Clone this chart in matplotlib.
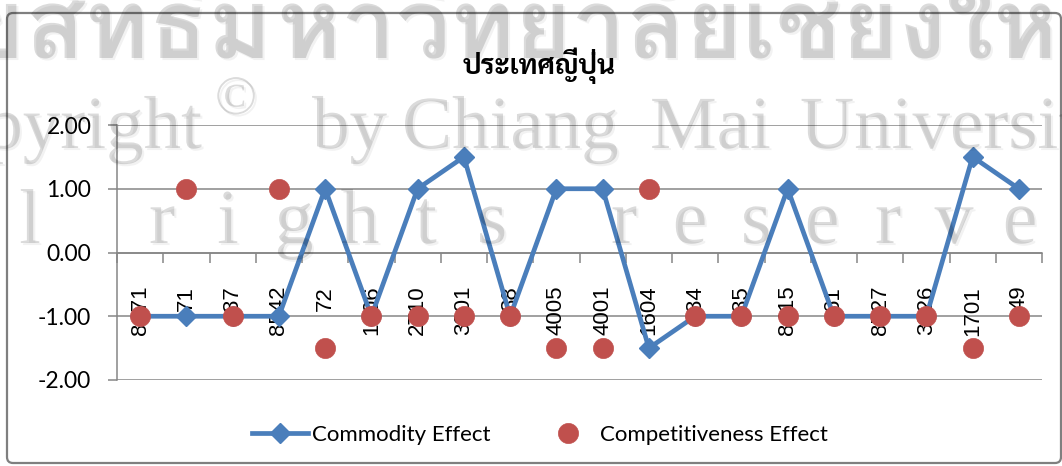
import matplotlib
matplotlib.use("Agg")
import matplotlib.pyplot as plt
import matplotlib.patches as mpatches
import matplotlib.patheffects as pe
from matplotlib.transforms import IdentityTransform
from matplotlib import font_manager as fm
from matplotlib.ft2font import FT2Font
from matplotlib.ticker import FixedLocator, NullFormatter

# ---------------- data ----------------
categories = ["8471", "71", "87", "8542", "72", "1006", "2710", "3901", "38", "4005",
              "4001", "1604", "84", "85", "8415", "61", "8527", "3926", "1701", "49"]
commodity_effect = [-1, -1, -1, -1, 1, -1, 1, 1.5, -1, 1,
                    1, -1.5, -1, -1, 1, -1, -1, -1, 1.5, 1]
competitiveness_effect = [-1, 1, -1, 1, -1.5, -1, -1, -1, -1, -1.5,
                          -1.5, 1, -1, -1, -1, -1, -1, -1, -1.5, -1]
y_ticks = [-2, -1, 0, 1, 2]
title = "ประเทศญี่ปุ่น"
series_names = ["Commodity Effect", "Competitiveness Effect"]

# ---------------- fonts ----------------
names = {f.name for f in fm.fontManager.ttflist}
thai_names = set()
for f in fm.fontManager.ttflist:
    try:
        if FT2Font(f.fname).get_char_index(ord("ป")):
            thai_names.add(f.name)
    except Exception:
        pass

def pick(prefs, fallback):
    for p in prefs:
        if p in thai_names:
            return p
    return fallback

any_thai = sorted(thai_names)[0] if thai_names else "DejaVu Sans"
title_font = pick(["Laksaman", "Norasi", "Kinnari", "Sarabun", "Loma"], any_thai)
wm_thai_font = pick(["Loma", "Sarabun", "IBM Plex Sans Thai Looped", "Kinnari"], any_thai)
sans = "Lato" if "Lato" in names else "DejaVu Sans"
narrow = "Liberation Sans Narrow" if "Liberation Sans Narrow" in names else "Liberation Sans"

W, H = 1062, 466
fig = plt.figure(figsize=(W / 100, H / 100), dpi=100, facecolor="white")

def fx(x):
    return x / W

def fy(y):
    return 1 - y / H

# plot area
ax = fig.add_axes([fx(117), fy(380), fx(1042) - fx(117), fy(125) - fy(380)])
ax.set_facecolor("none")
x = list(range(len(categories)))
grid_c = "#868686"

ax.set_xlim(-0.5, len(categories) - 0.5)
ax.set_ylim(-2, 2)
for v in y_ticks:
    ax.axhline(v, color=grid_c, lw=1.1, zorder=1)

ax.plot(x, commodity_effect, color="#4A7EBB", lw=3.4, marker="D", ms=10.5,
        mfc="#4A7EBB", mec="#4A7EBB", mew=1, zorder=3, label=series_names[0])
ax.plot(x, competitiveness_effect, ls="none", marker="o", ms=14.5,
        mfc="#C0504D", mec="#C0504D", mew=0.5, zorder=4, label=series_names[1])

for s in ["top", "right"]:
    ax.spines[s].set_visible(False)
ax.spines["left"].set_color(grid_c)
ax.spines["left"].set_linewidth(1.1)
ax.spines["bottom"].set_position(("data", 0))
ax.spines["bottom"].set_color(grid_c)
ax.spines["bottom"].set_linewidth(1.1)

ax.set_yticks(y_ticks)
ax.set_yticklabels([f"{v:.2f}" for v in y_ticks], fontfamily=sans, fontsize=16.5)
ax.tick_params(axis="y", direction="out", length=6.5, width=1.1, color=grid_c, pad=12)

ax.set_xticks(x)
ax.set_xticklabels(categories, rotation=90, fontfamily=narrow, fontsize=16,
                   ha="center", va="top")
ax.tick_params(axis="x", which="major", length=0, pad=24)
ax.xaxis.set_minor_locator(FixedLocator([i - 0.5 for i in range(len(categories) + 1)]))
ax.xaxis.set_minor_formatter(NullFormatter())
ax.tick_params(axis="x", which="minor", direction="out", length=7.5, width=1.1, color=grid_c)

# title
fig.text(fx(539), fy(66), title, ha="center", va="center", fontsize=20,
         fontweight="bold", family=[title_font, "DejaVu Sans"])

# legend
h, l = ax.get_legend_handles_labels()
fig.legend(h, l, loc="center", bbox_to_anchor=(fx(540), fy(435)), ncol=2,
           frameon=False, prop={"family": sans, "size": 16},
           handlelength=2.5, handletextpad=0.2, columnspacing=2.2)

# chart border
fig.patches.append(mpatches.FancyBboxPatch(
    (7, H - 463), 1054, 450, boxstyle="round,pad=0,rounding_size=6",
    transform=IdentityTransform(), fill=False, ec="#7f7f7f", lw=1.6))

# watermark
wm = dict(color=(0, 0, 0, 0.14), zorder=10,
          path_effects=[pe.SimplePatchShadow(offset=(1.5, -1.5), shadow_rgbFace="k", alpha=0.05),
                        pe.Normal()])
fig.text(fx(272), fy(58), "ลิขสิทธิ์ม", ha="right", va="baseline", fontsize=70,
         fontweight="bold", family=[wm_thai_font, "DejaVu Sans"], **wm)
fig.text(fx(277), fy(58), "หาวิทยาลัยเชียงใหม่", ha="left", va="baseline", fontsize=70,
         fontweight="bold", family=[wm_thai_font, "DejaVu Sans"], **wm)
serif = "Liberation Serif"
fig.text(fx(202), fy(148), "Copyright", ha="right", va="baseline", fontsize=54, family=serif, **wm)
fig.text(fx(236), fy(100), "©", ha="center", va="center", fontsize=40, family=serif, **wm)
for word, left in [("by", 312), ("Chiang", 402), ("Mai", 650), ("University", 800)]:
    fig.text(fx(left), fy(148), word, ha="left", va="baseline", fontsize=54, family=serif, **wm)
for i, ch in enumerate("All rights reserved"):
    if ch != " ":
        fig.text(fx(162 + 66 * (i - 4)), fy(243), ch, ha="center", va="baseline",
                 fontsize=56, family=serif, **wm)

fig.savefig("out.png", dpi=100, facecolor="white")
